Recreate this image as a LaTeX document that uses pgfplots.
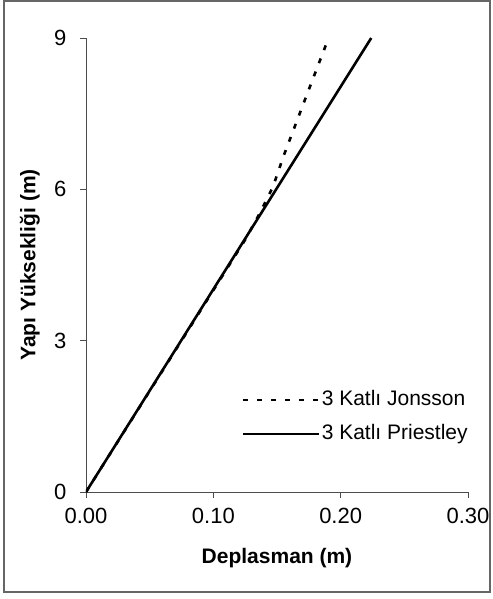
\documentclass[border=0pt]{standalone}
\usepackage{fontspec}
\setmainfont{Liberation Sans}
\usepackage{pgfplots}
\pgfplotsset{compat=1.18}
\begin{document}
\begin{tikzpicture}[x=1bp,y=1bp]
\useasboundingbox (-86,-107) rectangle (407,492);
\draw[black!60, line width=1.2bp] (-82,-100) rectangle (404,491);
\begin{axis}[
  at={(0,0)}, anchor=south west,
  scale only axis, width=382bp, height=454bp,
  xmin=0, xmax=0.3, ymin=0, ymax=9,
  axis x line*=bottom, axis y line*=left,
  axis line style={-, black!70, line width=0.8bp},
  xtick={0,0.1,0.2,0.3}, ytick={0,3,6,9},
  tick align=outside, major tick length=6bp,
  tick style={black!70, line width=0.8bp},
  /pgf/number format/assume math mode=true,
  ticklabel style={font=\fontsize{22bp}{26bp}\selectfont},
  xticklabel style={yshift=-7bp, /pgf/number format/.cd, fixed, fixed zerofill, precision=2},
  yticklabel style={xshift=-10bp},
  xlabel={Deplasman (m)}, ylabel={Yapı Yüksekliği (m)},
  label style={font=\fontsize{21bp}{25bp}\selectfont\bfseries},
  xlabel style={at={(axis description cs:0.5,-0.1454)}, anchor=center},
  ylabel style={at={(axis description cs:-0.1466,0.5)}, anchor=center, rotate=0},
  legend style={at={(axis cs:0.1225,2.014)}, anchor=north west, draw=none, fill=none,
    inner sep=0pt, row sep=15bp,
    font=\fontsize{21bp}{25bp}\selectfont,
    nodes={inner sep=0pt, text height=15bp, text depth=4bp}},
  legend cell align=left,
  legend image code/.code={\draw[#1] (0bp,0bp) -- (76bp,0bp);},
]
\addplot[black, line width=2.6bp, dash pattern=on 5bp off 9bp] coordinates {
(0,0) (0.125,5.0) (0.137,5.55) (0.147,6.06) (0.155,6.65) (0.172,7.78) (0.1905,9.0)};
\addlegendentry{\hspace{1bp}3 Katlı Jonsson}
\addplot[black, line width=2.6bp] coordinates {(0,0) (0.224,9)};
\addlegendentry{\hspace{1bp}3 Katlı Priestley}
\end{axis}
\end{tikzpicture}
\end{document}
